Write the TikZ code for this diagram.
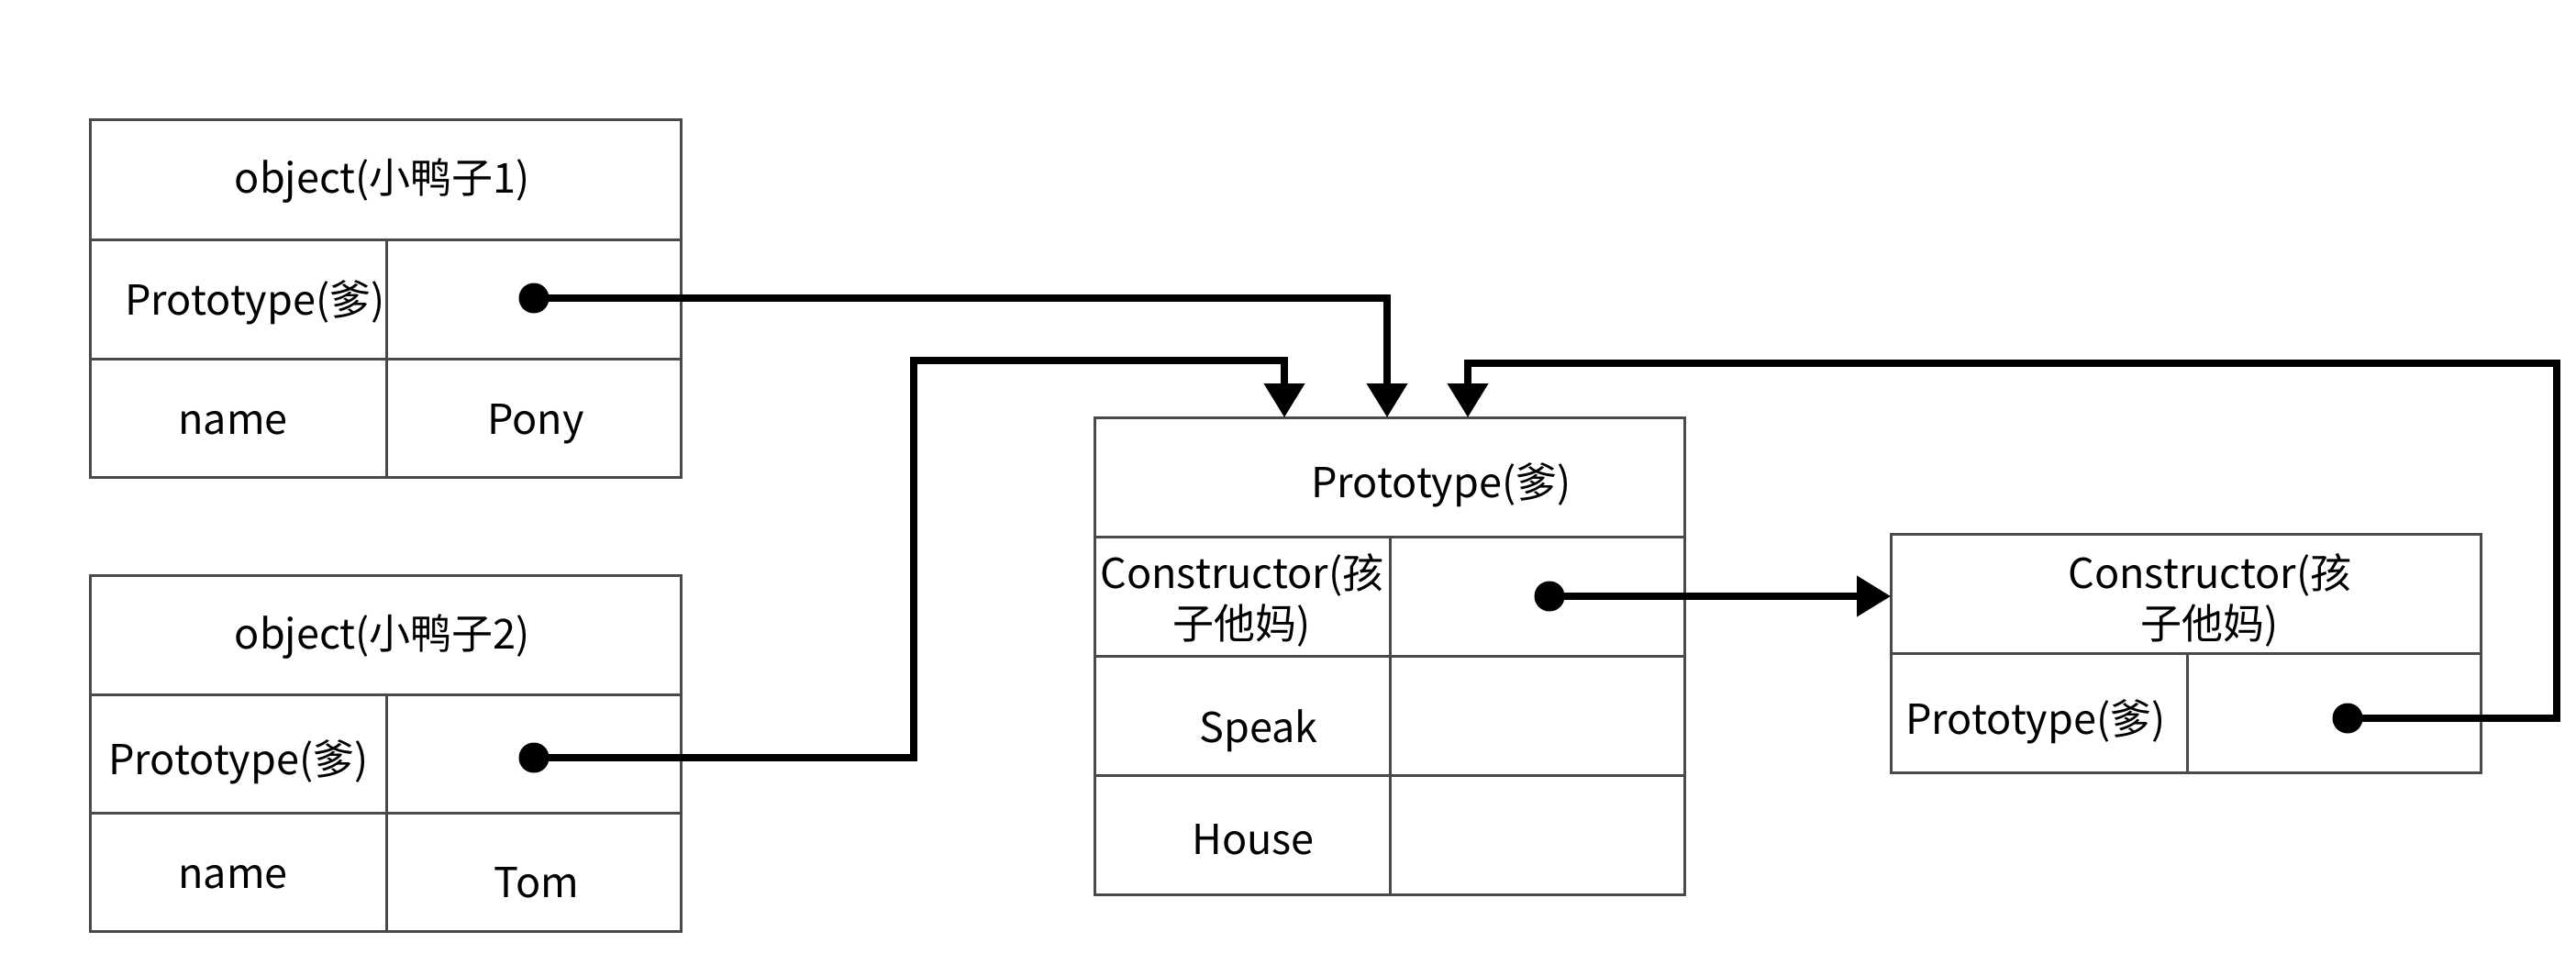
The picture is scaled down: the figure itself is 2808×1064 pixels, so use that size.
\documentclass[tikz,border=0pt]{standalone}
\usepackage{fontspec}
\setmainfont{Noto Sans CJK SC}
\usetikzlibrary{arrows.meta,fit}
\definecolor{linec}{HTML}{4A4A4A}
\begin{document}
\begin{tikzpicture}[x=0.3pt,y=-0.3pt,
  cell/.style={draw=linec,line width=0.9pt,inner sep=0pt,outer sep=0pt},
  txt/.style={inner sep=0pt,font=\fontsize{13.5pt}{16.5pt}\selectfont,align=center},
  dotnode/.style={circle,fill=black,inner sep=0pt,minimum size=9.9pt},
  conn/.style={line width=2.25pt,draw=black,-{Triangle[length=11.1pt,width=12.9pt]}}]
\useasboundingbox (0,0) rectangle (2808,1064);
% box 1
\node[cell,fit={(98,131)(742,261)}] (o1h) {};
\node[cell,fit={(98,261)(421,391)}] (o1pl) {};
\node[cell,fit={(421,261)(742,391)}] (o1pr) {};
\node[cell,fit={(98,391)(421,520)}] (o1nl) {};
\node[cell,fit={(421,391)(742,520)}] (o1nr) {};
\node[txt] (o1ht) at (417,197) {object(小鸭子1)};
\node[txt] (o1pt) at (278,330) {Prototype(爹)};
\node[txt] (o1nt) at (254,461) {name};
\node[txt] (o1vt) at (584,462) {Pony};
% box 2
\node[cell,fit={(98,627)(742,757)}] (o2h) {};
\node[cell,fit={(98,757)(421,886)}] (o2pl) {};
\node[cell,fit={(421,757)(742,886)}] (o2pr) {};
\node[cell,fit={(98,886)(421,1015)}] (o2nl) {};
\node[cell,fit={(421,886)(742,1015)}] (o2nr) {};
\node[txt] (o2ht) at (417,694) {object(小鸭子2)};
\node[txt] (o2pt) at (260,831) {Prototype(爹)};
\node[txt] (o2nt) at (254,956) {name};
\node[txt] (o2vt) at (585,962) {Tom};
% box 3 (prototype)
\node[cell,fit={(1193,455)(1836,585)}] (p3h) {};
\node[cell,fit={(1193,585)(1515,715)}] (p3cl) {};
\node[cell,fit={(1515,585)(1836,715)}] (p3cr) {};
\node[cell,fit={(1193,715)(1515,845)}] (p3sl) {};
\node[cell,fit={(1515,715)(1836,845)}] (p3sr) {};
\node[cell,fit={(1193,845)(1515,975)}] (p3hl) {};
\node[cell,fit={(1515,845)(1836,975)}] (p3hr) {};
\node[txt] (p3ht) at (1571,529) {Prototype(爹)};
\node[txt] (p3ct) at (1354,654) {Constructor(孩\\子他妈)};
\node[txt] (p3st) at (1372,797) {Speak};
\node[txt] (p3ot) at (1366,915) {House};
% box 4 (constructor)
\node[cell,fit={(2061,582)(2704,712)}] (c4h) {};
\node[cell,fit={(2061,712)(2384,842)}] (c4pl) {};
\node[cell,fit={(2384,712)(2704,842)}] (c4pr) {};
\node[txt] (c4ht) at (2409,654) {Constructor(孩\\子他妈)};
\node[txt] (c4pt) at (2219,787) {Prototype(爹)};
% dots
\node[dotnode] (d1) at (582,325) {};
\node[dotnode] (d2) at (582,826) {};
\node[dotnode] (d3) at (1689,650) {};
\node[dotnode] (d4) at (2559,783) {};
% arrow targets on top of box 3 and bends
\coordinate (t1) at (1400,455);
\coordinate (t2) at (1512,455);
\coordinate (t3) at (1600,455);
\coordinate (k2) at (996,393);
\coordinate (k4) at (2787,396);
% connectors
\draw[conn] (d1.center) -| (t2);
\draw[conn] (d2.center) -| (k2) -| (t1);
\draw[conn] (d4.center) -| (k4) -| (t3);
\draw[conn] (d3.center) -- (d3.center -| c4h.west);
\end{tikzpicture}
\end{document}
